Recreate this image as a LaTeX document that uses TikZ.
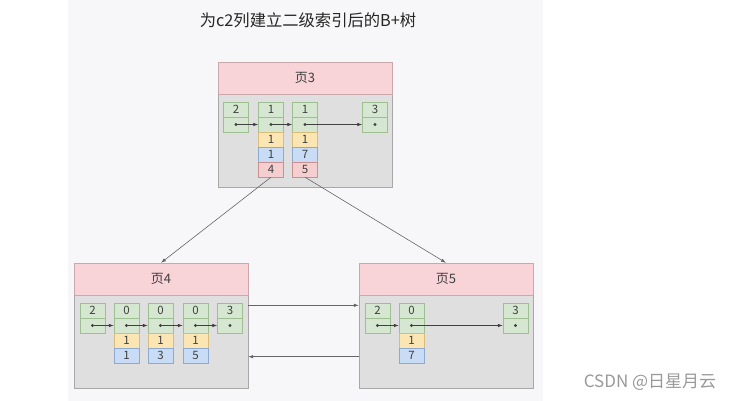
\documentclass[tikz,border=0pt]{standalone}
\usepackage{fontspec}
\setmainfont{Noto Sans CJK SC}
\usetikzlibrary{arrows.meta}
\definecolor{panel}{HTML}{F7F7F9}
\definecolor{headfill}{HTML}{F8D3D8}
\definecolor{headline}{HTML}{C8A8AC}
\definecolor{bodyfill}{HTML}{DFDFDF}
\definecolor{bodyline}{HTML}{A8A8A8}
\definecolor{gfill}{HTML}{D6E7D1}
\definecolor{gline}{HTML}{9DBF92}
\definecolor{yfill}{HTML}{FBE6B3}
\definecolor{yline}{HTML}{D9BB7A}
\definecolor{bfill}{HTML}{C9DCF5}
\definecolor{bline}{HTML}{8EAAD1}
\definecolor{rfill}{HTML}{F5CFCF}
\definecolor{rline}{HTML}{C99090}
\definecolor{ink}{HTML}{404040}
\begin{document}
\begin{tikzpicture}[x=1pt,y=-1pt,
    every node/.style={text=ink},
    phead/.style={draw=headline,fill=headfill,minimum width=174pt,minimum height=32pt,inner sep=0pt,font=\fontsize{13}{13}\selectfont},
    pbody/.style={draw=bodyline,fill=bodyfill,minimum width=174pt,minimum height=93pt,inner sep=0pt},
    cellbox/.style={minimum width=25pt,minimum height=15pt,inner sep=0pt,font=\fontsize{11.5}{11.5}\selectfont},
    gcell/.style={cellbox,draw=gline,fill=gfill},
    ycell/.style={cellbox,draw=yline,fill=yfill},
    bcell/.style={cellbox,draw=bline,fill=bfill},
    rcell/.style={cellbox,draw=rline,fill=rfill},
    ptr/.style={draw=ink,line width=0.6pt,-{Latex[length=5pt,width=3.5pt]}},
    link/.style={draw=ink!80,line width=0.6pt,-{Latex[length=5pt,width=3.5pt]}}]
  \useasboundingbox (0,0) rectangle (734,401);
  \fill[white] (0,0) rectangle (734,401);
  \fill[panel] (68,0) rectangle (543,401);
  % title
  \node[font=\fontsize{16.3}{17}\selectfont,text=black!85] (title) at (308,20) {为c2列建立二级索引后的B+树};
  % page 3
  \node[pbody] (p3b) at (305,140.5) {};
  \node[phead] (p3h) at (305,78) {页3};
  \foreach \k/\x [count=\i] in {2/236,1/271,1/305,3/375} {
    \node[gcell] (r3k\i) at (\x,109.5) {\k};
    \node[gcell] (r3p\i) at (\x,124.5) {};
    \fill[ink] (r3p\i.center) circle (1.6pt);
  }
  \node[ycell] (r3y2) at (271,139.5) {1};
  \node[bcell] (r3b2) at (271,154.5) {1};
  \node[rcell] (r3r2) at (271,169.5) {4};
  \node[ycell] (r3y3) at (305,139.5) {1};
  \node[bcell] (r3b3) at (305,154.5) {7};
  \node[rcell] (r3r3) at (305,169.5) {5};
  \foreach \a/\b in {1/2,2/3,3/4}
    \draw[ptr] (r3p\a.center) -- (r3p\b.west);
  % page 4
  \node[pbody] (p4b) at (161,342) {};
  \node[phead] (p4h) at (161,279) {页4};
  \foreach \k/\x [count=\i] in {2/92.5,0/126.5,0/160.5,0/195.5,3/230} {
    \node[gcell] (r4k\i) at (\x,310.5) {\k};
    \node[gcell] (r4p\i) at (\x,325.5) {};
    \fill[ink] (r4p\i.center) circle (1.6pt);
  }
  \foreach \y/\z/\x [count=\i from 2] in {1/1/126.5,1/3/160.5,1/5/195.5} {
    \node[ycell] (r4y\i) at (\x,340.5) {\y};
    \node[bcell] (r4b\i) at (\x,355.5) {\z};
  }
  \foreach \a/\b in {1/2,2/3,3/4,4/5}
    \draw[ptr] (r4p\a.center) -- (r4p\b.west);
  % page 5
  \node[pbody] (p5b) at (446,342) {};
  \node[phead] (p5h) at (446,279) {页5};
  \foreach \k/\x [count=\i] in {2/377.5,0/411.5,3/515.5} {
    \node[gcell] (r5k\i) at (\x,310.5) {\k};
    \node[gcell] (r5p\i) at (\x,325.5) {};
    \fill[ink] (r5p\i.center) circle (1.6pt);
  }
  \node[ycell] (r5y2) at (411.5,340.5) {1};
  \node[bcell] (r5b2) at (411.5,355.5) {7};
  \foreach \a/\b in {1/2,2/3}
    \draw[ptr] (r5p\a.center) -- (r5p\b.west);
  % links between pages
  \draw[link] (r3r2.south) -- (p4h.north);
  \draw[link] (r3r3.south) -- (p5h.north);
  \draw[link] ([yshift=-10pt]p4b.north east) -- ([yshift=-10pt]p5b.north west);
  \draw[link] ([yshift=32pt]p5b.south west) -- ([yshift=32pt]p4b.south east);
  % watermark
  \node[font=\fontsize{17}{17}\selectfont,text=black!40] (mark) at (650,382) {CSDN @日星月云};
\end{tikzpicture}
\end{document}
